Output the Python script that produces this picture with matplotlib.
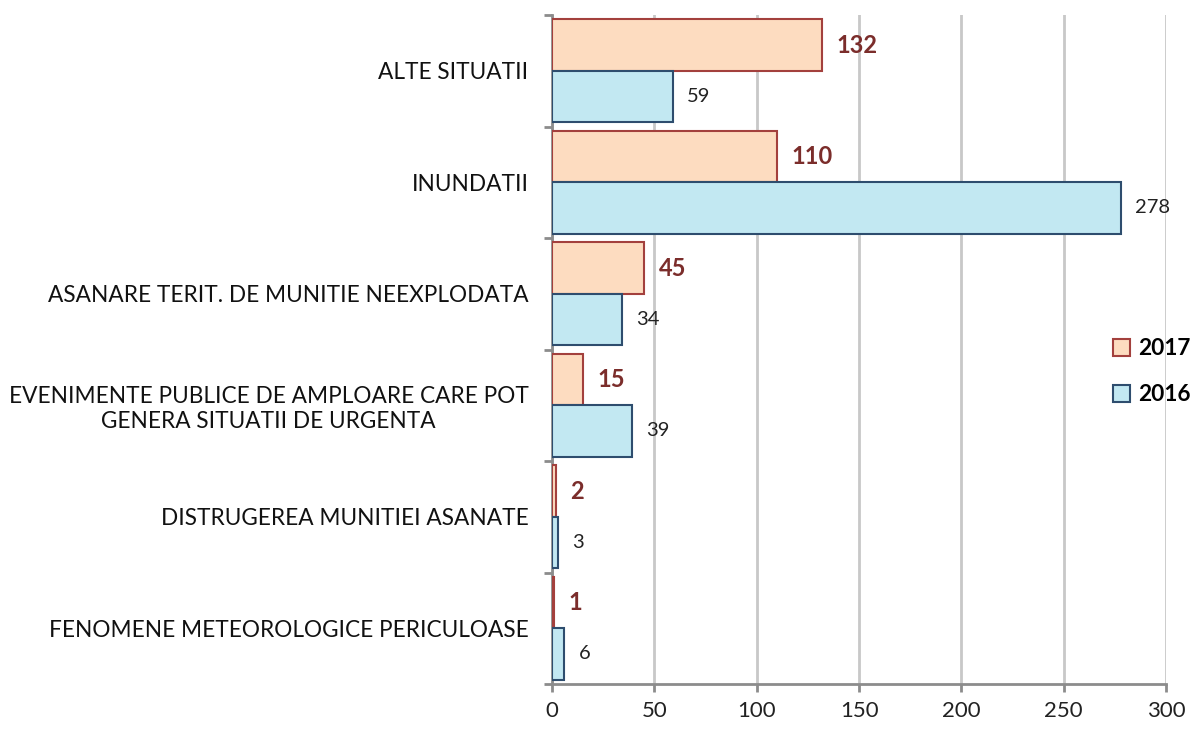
import numpy as np
import matplotlib.pyplot as plt
from matplotlib.patches import Patch

# Data (bottom to top)
categories = [
    "FENOMENE METEOROLOGICE PERICULOASE",
    "DISTRUGEREA MUNITIEI ASANATE",
    "EVENIMENTE PUBLICE DE AMPLOARE CARE POT\nGENERA SITUATII DE URGENTA",
    "ASANARE TERIT. DE MUNITIE NEEXPLODATA",
    "INUNDATII",
    "ALTE SITUATII",
]
values_2017 = [1, 2, 15, 45, 110, 132]
values_2016 = [6, 3, 39, 34, 278, 59]
x_ticks = [0, 50, 100, 150, 200, 250, 300]

plt.rcParams['font.family'] = ['Lato', 'DejaVu Sans']

fig = plt.figure(figsize=(11.98, 7.29), dpi=100)
ax = fig.add_axes([0.4608, 0.0617, 0.5125, 0.9177])

y = np.arange(len(categories))
h = 0.46
bars17 = ax.barh(y + h / 2, values_2017, height=h, color="#fddcc0",
                 edgecolor="#a3403d", linewidth=1.5, zorder=3, label="2017")
bars16 = ax.barh(y - h / 2, values_2016, height=h, color="#c2e8f2",
                 edgecolor="#2e4d6e", linewidth=1.5, zorder=3, label="2016")

# Value labels
for bar, v in zip(bars17, values_2017):
    ax.text(v + 7, bar.get_y() + bar.get_height() / 2, str(v),
            ha="left", va="center", fontsize=17, fontweight="bold", color="#7b2d2b")
for bar, v in zip(bars16, values_2016):
    ax.text(v + 7, bar.get_y() + bar.get_height() / 2, str(v),
            ha="left", va="center", fontsize=14.5, color="#222222")

ax.set_xlim(0, 300)
ax.set_ylim(-0.5, len(categories) - 0.5)
ax.set_xticks(x_ticks)
ax.set_xticklabels([str(t) for t in x_ticks], fontsize=16, color="#222222")
ax.set_yticks(np.arange(-0.5, len(categories), 1))
ax.set_yticklabels([])
ax.set_yticks(y, minor=True)
ax.set_yticklabels(categories, minor=True, fontsize=16.3, color="#111111",
                   multialignment="center")
ax.tick_params(axis="y", which="minor", length=0, pad=17)
ax.tick_params(axis="y", which="major", length=6, width=2, color="#8c8c8c")
ax.tick_params(axis="x", length=6, width=2, color="#8c8c8c", pad=6)

ax.grid(axis="x", color="#c8c8c8", linewidth=2, zorder=0)
for side in ["top", "right"]:
    ax.spines[side].set_visible(False)
for side in ["left", "bottom"]:
    ax.spines[side].set_color("#8c8c8c")
    ax.spines[side].set_linewidth(2)

handles = [Patch(facecolor="#fddcc0", edgecolor="#a3403d", linewidth=1.5, label="2017"),
           Patch(facecolor="#c2e8f2", edgecolor="#2e4d6e", linewidth=1.5, label="2016")]
leg = fig.legend(handles=handles, loc="center left", bbox_to_anchor=(0.912, 0.49),
                 frameon=False, handlelength=0.75, handleheight=0.75, handletextpad=0.35,
                 labelspacing=1.1, prop={"size": 16.3, "weight": "bold"})

plt.savefig("out.png", dpi=100)
plt.close()
